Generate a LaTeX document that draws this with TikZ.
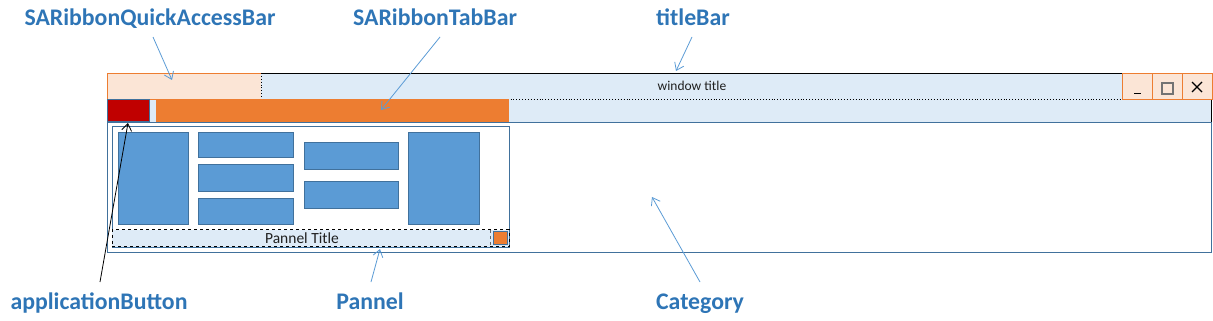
\documentclass[tikz,border=0pt]{standalone}
\usepackage{fontspec}
\setmainfont{Carlito}
\usetikzlibrary{arrows.meta}
\definecolor{lblue}{HTML}{DEEBF7}
\definecolor{lorange}{HTML}{FBE5D6}
\definecolor{orng}{HTML}{ED7D31}
\definecolor{bfill}{HTML}{5B9BD5}
\definecolor{bdraw}{HTML}{41719C}
\definecolor{txtblue}{HTML}{2E75B6}
\definecolor{darkred}{HTML}{C00000}
\begin{document}
\begin{tikzpicture}[x=1pt,y=-1pt,
  lbl/.style={text=txtblue,font=\fontsize{23.8}{26}\selectfont\bfseries,inner sep=0pt,anchor=base},
  ptr/.style={draw=bfill,line width=0.8pt,-{Straight Barb[length=7pt,width=10pt]}},
  blackptr/.style={draw=black,line width=0.8pt,-{Straight Barb[length=7pt,width=10pt]}},
  rect/.style={anchor=north west,inner sep=0pt,outer sep=0pt},
  blk/.style={rect,draw=bdraw,fill=bfill,line width=0.9pt},
  winbtn/.style={rect,draw=orng,fill=lorange,line width=0.9pt,minimum width=30pt,minimum height=26pt},
]
\useasboundingbox (0,0) rectangle (1213,321);

% category area
\node[rect,draw=bdraw,line width=0.9pt,minimum width=1104pt,minimum height=130pt] (cat) at (107,122) {};
% tab row
\node[rect,fill=lblue,minimum width=1104pt,minimum height=23pt] (tabrow) at (107,99) {};
\draw[black,line width=0.9pt] (tabrow.north east) -- (tabrow.south east);
\draw[bdraw,line width=0.9pt] (tabrow.north west) -- (tabrow.south west) -- (tabrow.south east);
% quick access bar
\node[rect,draw=orng,fill=lorange,line width=0.9pt,minimum width=154pt,minimum height=26pt] (qab) at (107,73) {};
% title bar
\node[rect,fill=lblue,minimum width=861pt,minimum height=26pt] (tbar) at (261,73) {};
\draw[black,line width=0.9pt] (tbar.north west) -- (tbar.north east);
\draw[black,dotted,line width=0.9pt] (tbar.north west) -- (tbar.south west) -- (tbar.south east);
\node[font=\fontsize{13.5}{15}\selectfont,text=black!88,anchor=base,inner sep=0pt] (wtitle) at (692,91) {window title};
% window buttons
\node[winbtn] (bmin) at (1122,73) {};
\node[winbtn] (bmax) at (1152,73) {};
\node[winbtn] (bclose) at (1182,73) {};
\draw[black,line width=0.9pt] (1134,93) -- (1141,93);
\draw[black!55,line width=1.3pt] (1162,83) rectangle (1173,94);
\draw[black,line width=1.3pt] (1192,82) -- (1202,92) (1192,92) -- (1202,82);
% application button and tab bar
\node[rect,draw=bdraw,fill=darkred,line width=0.9pt,minimum width=42pt,minimum height=22pt] (appbtn) at (107,99.5) {};
\node[rect,fill=orng,minimum width=353pt,minimum height=23pt] (tabbar) at (156,99) {};

% panel
\node[rect,draw=bdraw,line width=0.9pt,minimum width=397pt,minimum height=121pt] (panel) at (112,126) {};
\node[rect,draw=black,dashed,fill=lblue,line width=0.9pt,minimum width=397pt,minimum height=17pt] (ptitlebar) at (112,229.5) {};
\node[font=\fontsize{15.5}{17}\selectfont,text=black!88,anchor=base,inner sep=0pt] (ptitle) at (302,243.5) {Pannel Title};
\draw[black!60,dashed,line width=0.9pt] (490,229.5) -- (490,246.5);
\node[rect,draw=bdraw,fill=orng,line width=0.9pt,minimum width=14pt,minimum height=13pt] (pbtn) at (493,231) {};
% panel contents
\node[blk,minimum width=70pt,minimum height=92pt] (b1) at (118,132) {};
\node[blk,minimum width=95pt,minimum height=25pt] (b2) at (198,132) {};
\node[blk,minimum width=95pt,minimum height=27pt] (b3) at (198,164) {};
\node[blk,minimum width=95pt,minimum height=26pt] (b4) at (198,198) {};
\node[blk,minimum width=94pt,minimum height=27pt] (b5) at (304,142) {};
\node[blk,minimum width=94pt,minimum height=27pt] (b6) at (304,181) {};
\node[blk,minimum width=71pt,minimum height=92pt] (b7) at (408,132) {};

% labels
\node[lbl] (lqab) at (150,26) {SARibbonQuickAccessBar};
\node[lbl] (ltab) at (435,26) {SARibbonTabBar};
\node[lbl] (ltitle) at (693,26) {titleBar};
\node[lbl] (lapp) at (99,309) {applicationButton};
\node[lbl] (lpan) at (370,309) {Pannel};
\node[lbl] (lcat) at (700,309) {Category};

\coordinate (tqab) at (172,80);
\coordinate (ttab) at (381,110);
\coordinate (ttitle) at (676,71);
\coordinate (tapp) at (128,123);
\coordinate (tpan) at (380,249);
\coordinate (tcat) at (652,197);

\draw[ptr] ([shift={(3,11)}]lqab.base) -- (tqab);
\draw[ptr] ([shift={(5,11)}]ltab.base) -- (ttab);
\draw[ptr] ([shift={(-1,11)}]ltitle.base) -- (ttitle);
\draw[blackptr] ([shift={(1,-27)}]lapp.base) -- (tapp);
\draw[ptr] ([shift={(1,-27)}]lpan.base) -- (tpan);
\draw[ptr] ([shift={(0,-27)}]lcat.base) -- (tcat);
\end{tikzpicture}
\end{document}
